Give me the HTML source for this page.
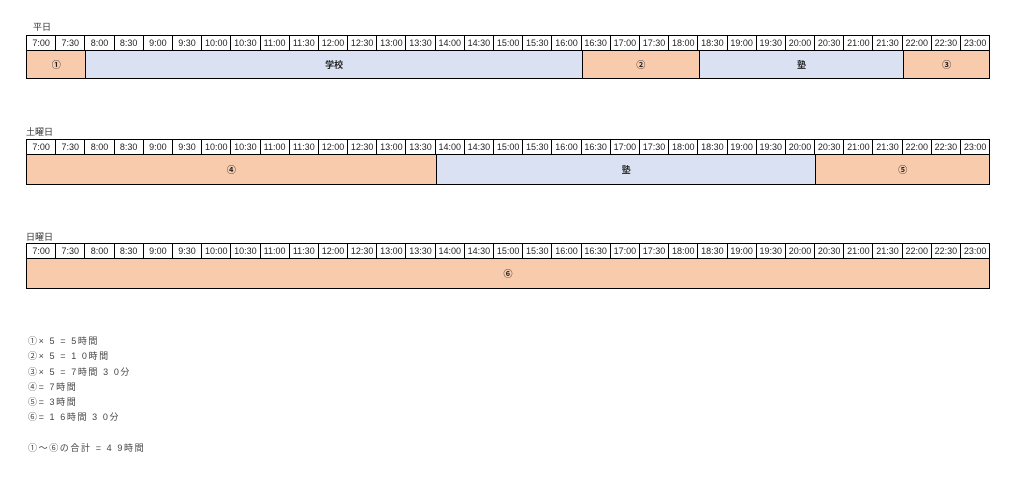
<!DOCTYPE html>
<html><head><meta charset="utf-8"><style>
body{margin:0;width:1024px;height:484px;background:#fff;position:relative;font-family:"Liberation Sans","Noto Sans CJK JP",sans-serif;overflow:hidden}
.t{position:absolute;left:26px;width:964px}
.lbl{position:absolute;font-size:9px;color:#333}
.hdr{position:absolute;left:0;top:0;width:964px;height:16px;display:flex;border:1.5px solid #000;box-sizing:border-box;background:#fff}
.hdr div{flex:1;border-left:1px solid #000;font-size:9px;text-align:center;line-height:14px;color:#222;overflow:hidden;white-space:nowrap}
.hdr div:first-child{border-left:none}
.body{position:absolute;left:0;top:15px;width:964px;border:1.5px solid #000;box-sizing:border-box;display:flex}
.seg{height:100%;display:flex;align-items:center;justify-content:center;font-size:9px;color:#222;font-weight:bold;border-left:1.5px solid #000;box-sizing:border-box}
.seg:first-child{border-left:none}
.o{background:#f8cbad}.b{background:#d9e1f2}
.notes{position:absolute;left:28px;top:334px;font-size:9px;color:#444;line-height:15.3px;letter-spacing:1.6px;white-space:nowrap}
</style></head><body>
<div class="lbl" style="left:33px;top:20px">平日</div>
<div class="t" style="top:35px;height:44px">
<div class="hdr" id="h1"></div>
<div class="body" style="height:29px">
<div class="seg o" style="width:58.4px">①</div>
<div class="seg b" style="width:496.6px">学校</div>
<div class="seg o" style="width:116.8px">②</div>
<div class="seg b" style="width:204.4px">塾</div>
<div class="seg o" style="flex:1">③</div>
</div></div>
<div class="lbl" style="left:26px;top:125px">土曜日</div>
<div class="t" style="top:139px;height:46px">
<div class="hdr" id="h2"></div>
<div class="body" style="height:31px">
<div class="seg o" style="width:408.8px">④</div>
<div class="seg b" style="width:379.6px">塾</div>
<div class="seg o" style="flex:1">⑤</div>
</div></div>
<div class="lbl" style="left:26px;top:230px">日曜日</div>
<div class="t" style="top:243px;height:46px">
<div class="hdr" id="h3"></div>
<div class="body" style="height:31px">
<div class="seg o" style="flex:1">⑥</div>
</div></div>
<div class="notes">①× 5 = 5時間<br>②× 5 = 1 0時間<br>③× 5 = 7時間 3 0分<br>④= 7時間<br>⑤= 3時間<br>⑥= 1 6時間 3 0分<br><br>①〜⑥の合計 = 4 9時間</div>
<script>
var s="";for(var h=7;h<=23;h++){s+="<div>"+h+":00</div>";if(h<23)s+="<div>"+h+":30</div>";}
["h1","h2","h3"].forEach(function(i){document.getElementById(i).innerHTML=s;});
</script>
</body></html>
